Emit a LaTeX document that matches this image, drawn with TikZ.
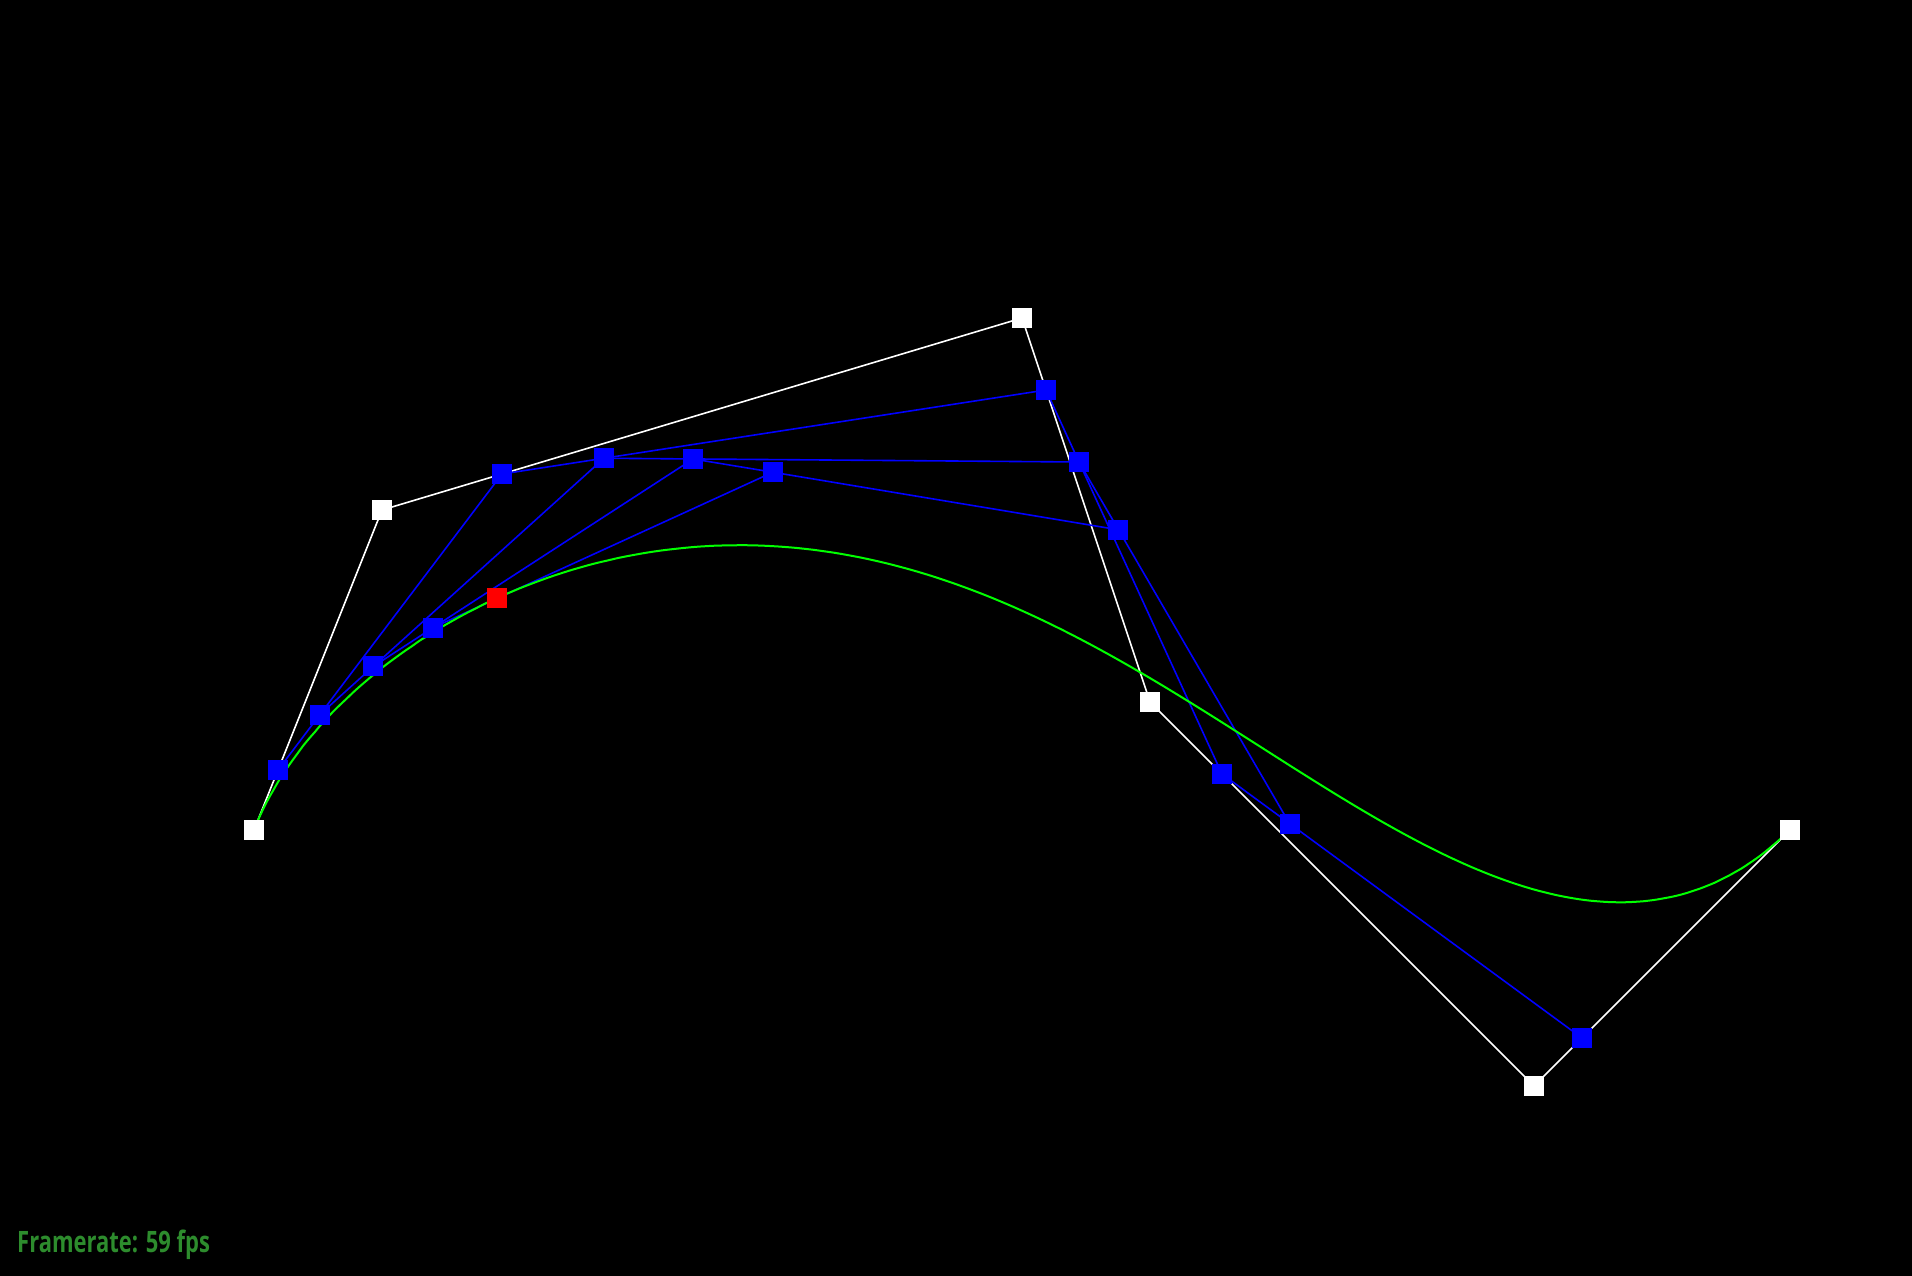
\documentclass[tikz,border=0pt]{standalone}
\usepackage{fontspec}
\setmainfont{Open Sans}
\usetikzlibrary{calc}
\definecolor{fpsgreen}{RGB}{45,140,45}
\definecolor{pureblue}{RGB}{0,0,255}
\definecolor{puregreen}{RGB}{0,255,0}
\tikzset{
  ctrlpt/.style={fill=white, draw=none, minimum size=20pt, inner sep=0pt, outer sep=0pt, rectangle},
  midpt/.style={fill=pureblue, draw=none, minimum size=20pt, inner sep=0pt, outer sep=0pt, rectangle},
  curvept/.style={fill=red, draw=none, minimum size=20pt, inner sep=0pt, outer sep=0pt, rectangle},
  hull/.style={draw=white, line width=1.6pt},
  level/.style={draw=pureblue, line width=1.6pt},
  curveline/.style={draw=puregreen, line width=2pt},
}
\begin{document}
\begin{tikzpicture}[x=1pt,y=-1pt]
\fill[black] (0,0) rectangle (1912,1276);
\useasboundingbox (0,0) rectangle (1912,1276);
\def\tt{0.1875}
% control points
\coordinate (p0) at (254,830);
\coordinate (p1) at (382,510);
\coordinate (p2) at (1022,318);
\coordinate (p3) at (1150,702);
\coordinate (p4) at (1534,1086);
\coordinate (p5) at (1790,830);
% level 1
\coordinate (a0) at ($(p0)!\tt!(p1)$);
\coordinate (a1) at ($(p1)!\tt!(p2)$);
\coordinate (a2) at ($(p2)!\tt!(p3)$);
\coordinate (a3) at ($(p3)!\tt!(p4)$);
\coordinate (a4) at ($(p4)!\tt!(p5)$);
% level 2
\coordinate (b0) at ($(a0)!\tt!(a1)$);
\coordinate (b1) at ($(a1)!\tt!(a2)$);
\coordinate (b2) at ($(a2)!\tt!(a3)$);
\coordinate (b3) at ($(a3)!\tt!(a4)$);
% level 3
\coordinate (c0) at ($(b0)!\tt!(b1)$);
\coordinate (c1) at ($(b1)!\tt!(b2)$);
\coordinate (c2) at ($(b2)!\tt!(b3)$);
% level 4
\coordinate (d0) at ($(c0)!\tt!(c1)$);
\coordinate (d1) at ($(c1)!\tt!(c2)$);
% level 5
\coordinate (e0) at ($(d0)!\tt!(d1)$);
% lines
\draw[hull] (p0) -- (p1) -- (p2) -- (p3) -- (p4) -- (p5);
\draw[level] (a0) -- (a1) -- (a2) -- (a3) -- (a4);
\draw[level] (b0) -- (b1) -- (b2) -- (b3);
\draw[level] (c0) -- (c1) -- (c2);
\draw[level] (d0) -- (d1);
% curve
\draw[curveline] plot[domain=0:1, samples=200, variable=\t, smooth]
 ({(1-\t)^5*254 + 5*\t*(1-\t)^4*382 + 10*\t^2*(1-\t)^3*1022 + 10*\t^3*(1-\t)^2*1150 + 5*\t^4*(1-\t)*1534 + \t^5*1790},
  {(1-\t)^5*830 + 5*\t*(1-\t)^4*510 + 10*\t^2*(1-\t)^3*318 + 10*\t^3*(1-\t)^2*702 + 5*\t^4*(1-\t)*1086 + \t^5*830});
% points
\foreach \n in {p0,p1,p2,p3,p4,p5} \node[ctrlpt] (n\n) at (\n) {};
\foreach \n in {a0,a1,a2,a3,a4,b0,b1,b2,b3,c0,c1,c2,d0,d1} \node[midpt] (n\n) at (\n) {};
\node[curvept] (ne0) at (e0) {};
% text
\node[anchor=base west, inner sep=0pt, text=fpsgreen] (fps) at (17,1252)
  {\fontsize{29.5}{30}\selectfont\bfseries\scalebox{0.745}[1]{Framerate: 59 fps}};
\end{tikzpicture}
\end{document}
